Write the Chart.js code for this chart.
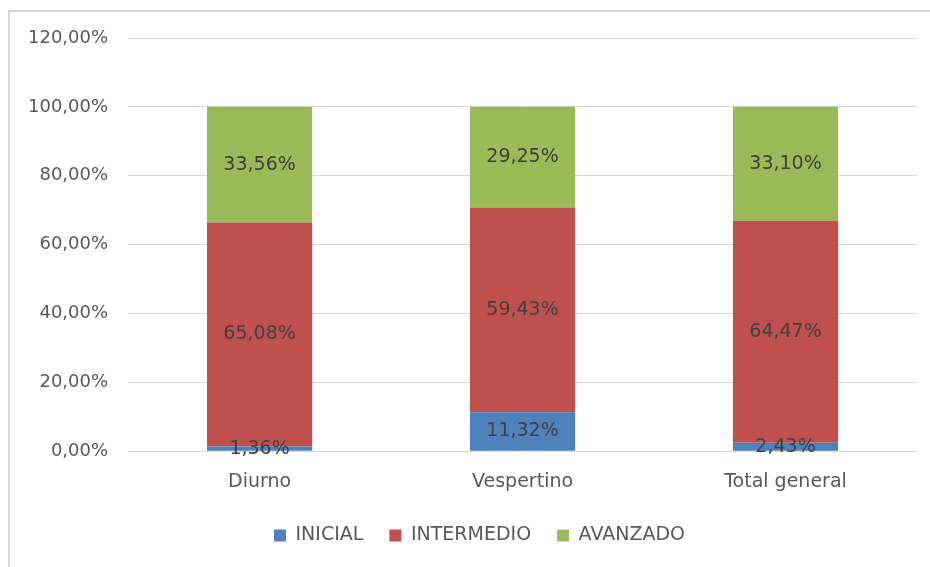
<!DOCTYPE html>
<html>
<head>
<meta charset="utf-8">
<script src="https://cdn.jsdelivr.net/npm/chart.js@4/dist/chart.umd.min.js"></script>
<style>
  html, body { margin: 0; padding: 0; background: #fff; }
  #frame {
    position: absolute; left: 8px; top: 10px; width: 940px; height: 570px;
    border-left: 2px solid #d9d9d9; border-top: 2px solid #d9d9d9;
  }
  #wrap { position: absolute; left: 0; top: 0; width: 930px; height: 567px; }
</style>
</head>
<body>
<div id="frame"></div>
<div id="wrap"><canvas id="barChart"></canvas></div>
<script>
const categories = ["Diurno", "Vespertino", "Total general"];
const inicial = [1.36, 11.32, 2.43];
const intermedio = [65.08, 59.43, 64.47];
const avanzado = [33.56, 29.25, 33.10];

const fontFamily = "'DejaVu Sans', sans-serif";

const fmt = function (v) {
  return v.toFixed(2).replace(".", ",") + "%";
};

// draws the value in the middle of every segment
const segmentLabels = {
  id: "segmentLabels",
  afterDatasetsDraw(chart) {
    const ctx = chart.ctx;
    ctx.save();
    ctx.font = "19px " + fontFamily;
    ctx.fillStyle = "#404040";
    ctx.textAlign = "center";
    ctx.textBaseline = "middle";
    chart.data.datasets.forEach(function (ds, i) {
      chart.getDatasetMeta(i).data.forEach(function (bar, j) {
        ctx.fillText(fmt(ds.data[j]), bar.x, (bar.y + bar.base) / 2);
      });
    });
    ctx.restore();
  },
};

// legend sits a bit right of the canvas centre in the original
const legendShift = {
  id: "legendShift",
  afterLayout(chart) {
    chart.legend.left += 17;
    chart.legend.right += 17;
  },
};

const dataBarChart = {
  labels: categories,
  datasets: [
    { label: "INICIAL", data: inicial, backgroundColor: "#4F81BD" },
    { label: "INTERMEDIO", data: intermedio, backgroundColor: "#C0504D" },
    { label: "AVANZADO", data: avanzado, backgroundColor: "#9BBB59" },
  ],
};

const myBarChart = new Chart(document.getElementById("barChart"), {
  type: "bar",
  data: dataBarChart,
  plugins: [segmentLabels, legendShift],
  options: {
    responsive: true,
    maintainAspectRatio: false,
    animation: false,
    datasets: {
      bar: { barPercentage: 0.4, categoryPercentage: 1 },
    },
    layout: { padding: { left: 8, right: 13, top: 38, bottom: 12 } },
    scales: {
      x: {
        stacked: true,
        grid: { display: false },
        border: { display: false },
        afterFit: function (axis) { axis.height -= 4; },
        ticks: {
          color: "#595959",
          padding: 11,
          font: { size: 19, family: fontFamily },
        },
      },
      y: {
        stacked: true,
        min: 0,
        max: 120,
        border: { display: false },
        grid: { color: "#d9d9d9", lineWidth: 1, drawTicks: false },
        ticks: {
          stepSize: 20,
          color: "#595959",
          padding: 20,
          font: { size: 18, family: fontFamily },
          callback: function (v) { return fmt(v); },
        },
      },
    },
    plugins: {
      legend: {
        position: "bottom",
        labels: {
          color: "#595959",
          boxWidth: 12,
          boxHeight: 12,
          padding: 26,
          font: { size: 19, family: fontFamily },
        },
      },
      tooltip: { enabled: false },
    },
  },
});
</script>
</body>
</html>
